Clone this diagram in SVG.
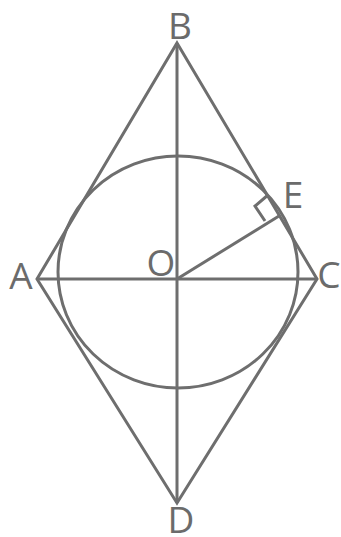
<svg xmlns="http://www.w3.org/2000/svg" width="341" height="537" viewBox="0 0 341 537">
<style>
.ln{fill:none;stroke:#6e6e6e;stroke-width:3;stroke-linejoin:miter}
.lb{font-family:"Open Sans","Noto Sans",sans-serif;font-size:37px;fill:#6b6b6b;text-anchor:middle}
</style>
<rect width="341" height="537" fill="#ffffff"/>
<g id="connectors">
<polygon class="ln" points="177,43 317,279 177,503 37,279"/>
<line class="ln" x1="177" y1="43" x2="177" y2="503"/>
<line class="ln" x1="37" y1="279" x2="317" y2="279"/>
<ellipse class="ln" cx="178" cy="272" rx="120" ry="116"/>
<line class="ln" x1="177" y1="279" x2="279" y2="216"/>
<polyline class="ln" stroke-width="2.5" points="268,195 255,206 265,221"/>
</g>
<g id="B"><text class="lb" x="180" y="39">B</text></g>
<g id="A"><text class="lb" x="21" y="289">A</text></g>
<g id="C"><text class="lb" x="329" y="288">C</text></g>
<g id="D"><text class="lb" x="181" y="533">D</text></g>
<g id="E"><text class="lb" x="293" y="208">E</text></g>
<g id="O"><text class="lb" x="161" y="276">O</text></g>
</svg>
